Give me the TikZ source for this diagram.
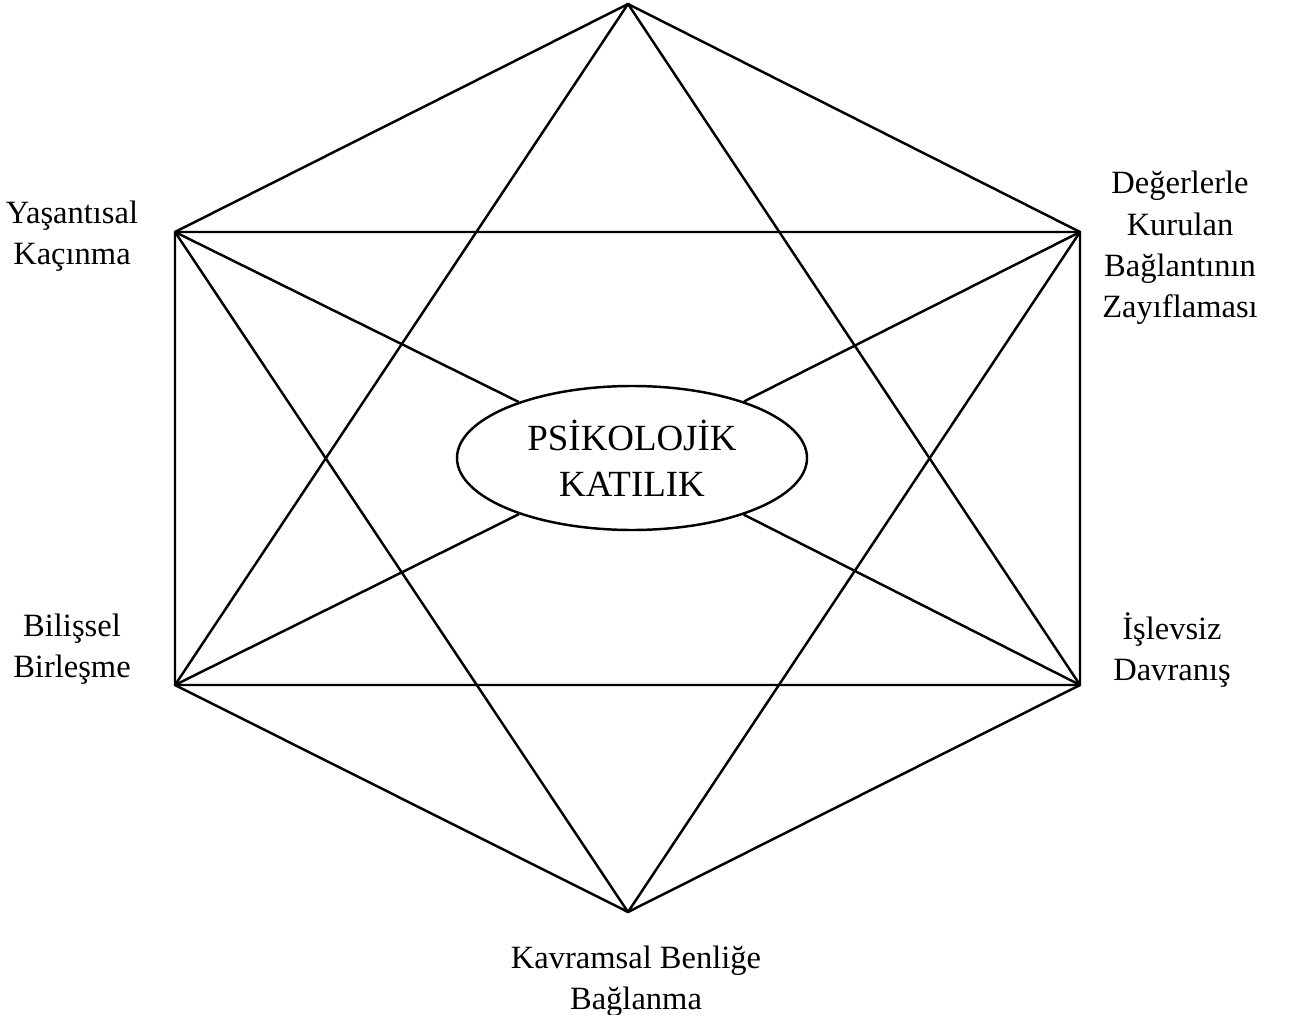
\documentclass[tikz,border=0pt]{standalone}
\usepackage{fontspec}
\setmainfont{Liberation Serif}
\usepackage{tikz}
\usetikzlibrary{shapes.geometric}
\tikzstyle{corner} = 
[
	align=center, 
	font=\fontsize{18.5}{23.5}\selectfont
]
\tikzstyle{core} = 
[
	ellipse, 
	minimum width=7cm, 
	minimum height=2.88cm, 
	inner sep=0pt, 
	align=center, 
	draw=black, 
	line width=1.4pt, 
	font=\fontsize{21}{26}\selectfont
]
\tikzstyle{edge} = [line width=1.4pt, line join=round]

\begin{document}
\begin{tikzpicture}
	\useasboundingbox (0,0) rectangle (25.9,20.28);
	
	% corners of the hexagon
	\coordinate (Top) at (12.56,20.2);
	\coordinate (UpLeft) at (3.5,15.64);
	\coordinate (UpRight) at (21.6,15.64);
	\coordinate (LowLeft) at (3.5,6.58);
	\coordinate (LowRight) at (21.6,6.58);
	\coordinate (Bottom) at (12.56,2.04);
	
	\node
	(Rigidity)
	[core]
	at (12.64,11.12)
	{
		PSİKOLOJİK\\KATILIK
	};
	
	\node
	(Avoidance)
	[corner]
	at (1.44,15.56)
	{
		Yaşantısal\\Kaçınma
	};
	
	\node
	(Values)
	[corner]
	at (23.6,15.32)
	{
		Değerlerle\\Kurulan\\Bağlantının\\Zayıflaması
	};
	
	\node
	(Fusion)
	[corner]
	at (1.44,7.3)
	{
		Bilişsel\\Birleşme
	};
	
	\node
	(Inaction)
	[corner]
	at (23.44,7.28)
	{
		İşlevsiz\\Davranış
	};
	
	\node
	(SelfContent)
	[corner]
	at (12.72,0.66)
	{
		Kavramsal Benliğe\\Bağlanma
	};
	
	% hexagon
	\draw [edge] (Top) -- (UpRight) -- (LowRight) -- (Bottom) -- (LowLeft) -- (UpLeft) -- cycle;
	% star
	\draw [edge] (Top) -- (LowRight) -- (LowLeft) -- cycle;
	\draw [edge] (Bottom) -- (UpRight) -- (UpLeft) -- cycle;
	% spokes to the centre
	\draw [edge] (UpLeft) -- (Rigidity);
	\draw [edge] (UpRight) -- (Rigidity);
	\draw [edge] (LowLeft) -- (Rigidity);
	\draw [edge] (LowRight) -- (Rigidity);
	
\end{tikzpicture}
\end{document}
